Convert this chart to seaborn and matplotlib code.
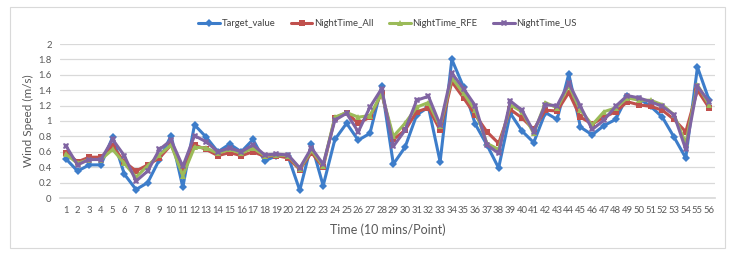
import matplotlib
matplotlib.use("Agg")
import matplotlib.pyplot as plt
import matplotlib.patches as mpatches
import seaborn as sns
import pandas as pd
import numpy as np

points = list(range(1, 57))

target_value = [0.51, 0.35, 0.43, 0.43, 0.79, 0.31, 0.11, 0.20, 0.50, 0.81,
                0.14, 0.95, 0.79, 0.60, 0.70, 0.60, 0.76, 0.48, 0.55, 0.54,
                0.10, 0.70, 0.16, 0.76, 0.97, 0.75, 0.84, 1.45, 0.44, 0.66,
                1.08, 1.18, 0.47, 1.80, 1.44, 0.96, 0.69, 0.39, 1.10, 0.87,
                0.72, 1.11, 1.02, 1.61, 0.92, 0.82, 0.94, 1.02, 1.32, 1.29,
                1.19, 1.05, 0.79, 0.52, 1.70, 1.27]
nighttime_all = [0.59, 0.47, 0.53, 0.53, 0.67, 0.47, 0.35, 0.43, 0.52, 0.69,
                 0.35, 0.69, 0.63, 0.55, 0.59, 0.55, 0.60, 0.54, 0.55, 0.52,
                 0.37, 0.59, 0.40, 1.04, 1.11, 0.97, 1.05, 1.36, 0.76, 0.88,
                 1.12, 1.17, 0.88, 1.51, 1.30, 1.08, 0.86, 0.71, 1.15, 1.04,
                 0.89, 1.14, 1.13, 1.37, 1.05, 0.96, 1.05, 1.12, 1.25, 1.21,
                 1.19, 1.14, 1.02, 0.86, 1.40, 1.17]
nighttime_rfe = [0.57, 0.45, 0.50, 0.50, 0.63, 0.45, 0.27, 0.42, 0.56, 0.69,
                 0.29, 0.66, 0.65, 0.58, 0.63, 0.58, 0.65, 0.55, 0.56, 0.55,
                 0.38, 0.62, 0.42, 1.05, 1.11, 1.05, 1.07, 1.36, 0.80, 0.97,
                 1.18, 1.24, 0.93, 1.56, 1.36, 1.14, 0.71, 0.63, 1.21, 1.12,
                 0.84, 1.24, 1.17, 1.46, 1.14, 0.95, 1.12, 1.17, 1.30, 1.27,
                 1.27, 1.21, 1.08, 0.71, 1.47, 1.21]
nighttime_us = [0.68, 0.43, 0.50, 0.50, 0.76, 0.55, 0.22, 0.35, 0.63, 0.75,
                0.41, 0.81, 0.73, 0.60, 0.65, 0.60, 0.69, 0.56, 0.57, 0.56,
                0.39, 0.65, 0.44, 1.01, 1.10, 0.86, 1.18, 1.42, 0.67, 0.88,
                1.27, 1.32, 0.95, 1.62, 1.42, 1.20, 0.69, 0.58, 1.26, 1.14,
                0.86, 1.21, 1.20, 1.49, 1.19, 0.89, 1.01, 1.19, 1.33, 1.30,
                1.25, 1.19, 1.08, 0.63, 1.45, 1.25]

series_names = ["Target_value", "NightTime_All", "NightTime_RFE", "NightTime_US"]
series_values = [target_value, nighttime_all, nighttime_rfe, nighttime_us]
y_ticks = [0, 0.2, 0.4, 0.6, 0.8, 1, 1.2, 1.4, 1.6, 1.8, 2]
y_tick_labels = ["0", "0.2", "0.4", "0.6", "0.8", "1", "1.2", "1.4", "1.6", "1.8", "2"]

df = pd.DataFrame({
    "Point": points * len(series_names),
    "Wind": sum(series_values, []),
    "Series": sum([[n] * len(points) for n in series_names], []),
})

sns.set_theme(style="white")
plt.rcParams["font.family"] = ["Lato", "DejaVu Sans"]

colors = {"Target_value": "#3D7DCA", "NightTime_All": "#C0504D",
          "NightTime_RFE": "#9BBB59", "NightTime_US": "#8064A2"}
markers = {"Target_value": "D", "NightTime_All": "s",
           "NightTime_RFE": "^", "NightTime_US": "X"}
msize = {"Target_value": 4, "NightTime_All": 5,
         "NightTime_RFE": 5, "NightTime_US": 5}

fig = plt.figure(figsize=(7.34, 2.59), dpi=100)
ax = fig.add_axes([60 / 734, 1 - 198 / 259, 655 / 734, 154 / 259])

for name in series_names:
    sub = df[df["Series"] == name]
    sns.lineplot(data=sub, x="Point", y="Wind", ax=ax, color=colors[name],
                 marker=markers[name], markersize=msize[name], linewidth=2.2,
                 markeredgewidth=0, label=name)

ax.set_xlim(0.5, 56.5)
ax.set_ylim(0, 2)
ax.set_yticks(y_ticks)
ax.set_yticklabels(y_tick_labels)
ax.set_xticks(points)
ax.set_xticklabels([str(p) for p in points])
ax.tick_params(axis="both", length=0, labelsize=6.8, colors="#595959", pad=6)
ax.grid(axis="y", color="#D9D9D9", linewidth=0.9)
ax.grid(axis="x", visible=False)
for s in ["top", "right", "left"]:
    ax.spines[s].set_visible(False)
ax.spines["bottom"].set_color("#D9D9D9")

ax.set_xlabel("Time (10 mins/Point)", fontsize=9, color="#595959", labelpad=6)
ax.set_ylabel("Wind Speed (m/s)", fontsize=8.5, color="#595959", labelpad=3)

leg = ax.legend(loc="lower center", bbox_to_anchor=(0.5, 1.08), ncol=4,
                frameon=False, fontsize=6.8, handlelength=2.3, columnspacing=1.6,
                handletextpad=0.2, borderaxespad=0)
for t in leg.get_texts():
    t.set_color("#404040")

border = mpatches.Rectangle((10 / 734, 1 - 248 / 259), 715 / 734, 241 / 259,
                            transform=fig.transFigure, fill=False,
                            edgecolor="#D9D9D9", linewidth=0.8)
fig.patches.append(border)

fig.savefig("out.png", dpi=100, facecolor="white")
